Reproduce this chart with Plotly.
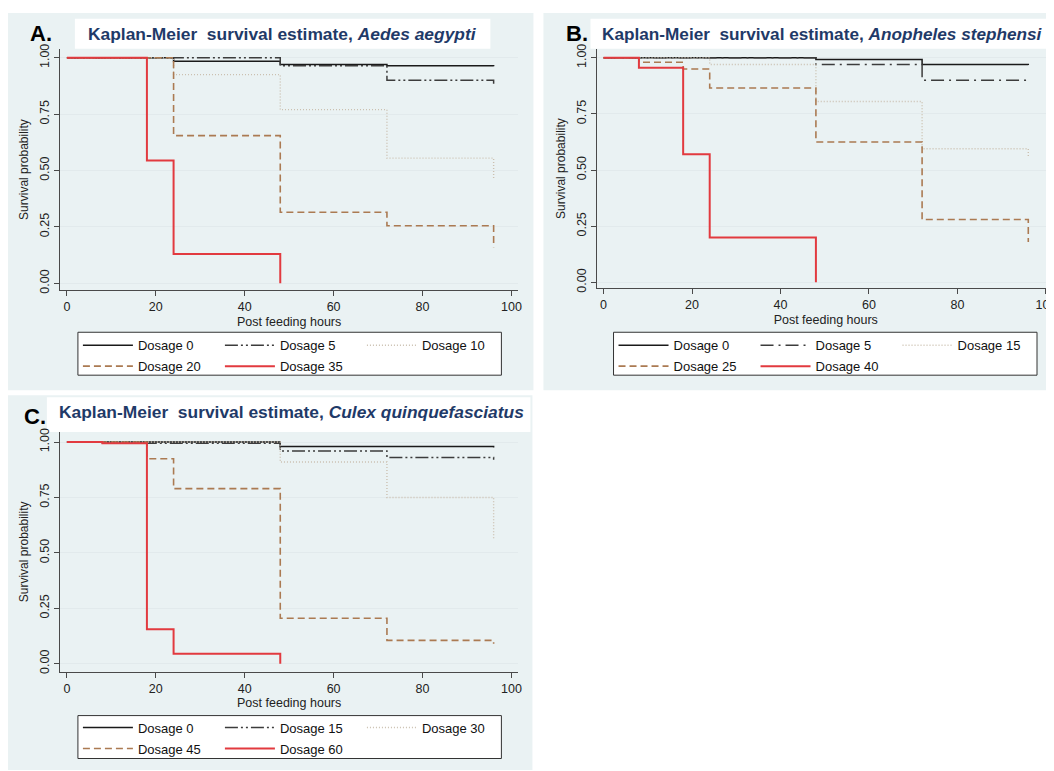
import plotly.graph_objects as go

# Positions below are given in window pixels of the target picture and mapped
# onto figure pixels (page offset + slight capture scaling, measured).
PAGE_W, PAGE_H = 1054, 771
SX, OFX = 0.996, 8.2
SY, OFY = 0.990, 12.3


def gx(px):
    return px / SX - OFX


def gy(py):
    return py / SY - OFY


W, H = round(gx(PAGE_W)), round(gy(PAGE_H))

# ---------------- data ----------------
X_TICKS = [0, 20, 40, 60, 80, 100]
Y_TICKS = [0.0, 0.25, 0.5, 0.75, 1.0]
Y_TICKTEXT = ["0.00", "0.25", "0.50", "0.75", "1.00"]

# Panel A: Aedes aegypti
A_LABELS = ["Dosage 0", "Dosage 5", "Dosage 10", "Dosage 20", "Dosage 35"]
A_T0 = [0, 24, 48, 72, 96]
A_S0 = [1.0, 0.985, 0.97, 0.965, 0.962]
A_T1 = [0, 48, 72, 96]
A_S1 = [1.0, 0.965, 0.90, 0.885]
A_T2 = [0, 24, 48, 72, 96]
A_S2 = [1.0, 0.925, 0.77, 0.555, 0.46]
A_T3 = [0, 24, 48, 72, 96]
A_S3 = [1.0, 0.655, 0.315, 0.255, 0.16]
A_T4 = [0, 18, 24, 48]
A_S4 = [1.0, 0.545, 0.13, 0.0]

# Panel B: Anopheles stephensi
B_LABELS = ["Dosage 0", "Dosage 5", "Dosage 15", "Dosage 25", "Dosage 40"]
B_T0 = [0, 48, 72, 96]
B_S0 = [1.0, 0.992, 0.97, 0.968]
B_T1 = [0, 48, 72, 96]
B_S1 = [1.0, 0.97, 0.90, 0.895]
B_T2 = [0, 24, 48, 72, 96]
B_S2 = [1.0, 0.97, 0.805, 0.595, 0.555]
B_T3 = [0, 8, 18, 24, 48, 72, 96]
B_S3 = [1.0, 0.98, 0.95, 0.865, 0.625, 0.28, 0.18]
B_T4 = [0, 8, 18, 24, 48]
B_S4 = [1.0, 0.955, 0.57, 0.20, 0.0]

# Panel C: Culex quinquefasciatus
C_LABELS = ["Dosage 0", "Dosage 15", "Dosage 30", "Dosage 45", "Dosage 60"]
C_T0 = [0, 48, 96]
C_S0 = [1.0, 0.98, 0.975]
C_T1 = [0, 8, 48, 72, 96]
C_S1 = [1.0, 0.995, 0.96, 0.93, 0.92]
C_T2 = [0, 48, 72, 96]
C_S2 = [1.0, 0.91, 0.75, 0.56]
C_T3 = [0, 18, 24, 48, 72, 96]
C_S3 = [1.0, 0.925, 0.79, 0.205, 0.105, 0.09]
C_T4 = [0, 8, 18, 24, 48]
C_S4 = [1.0, 0.995, 0.155, 0.045, 0.0]

# ---------------- styling ----------------
FONT = "Liberation Sans, Arial, sans-serif"
BG = "#EAF2F3"
TITLE_COL = "#1f3a68"
AXIS_COL = "#4a4a4a"
GRID_COL = "#e2eaec"

DDOT = "13px,3px,2px,3px,2px,3px"
LDOT = "13px,5px,2px,5px"
STYLES_A = [
    dict(color="#1a1a1a", width=1.5, dash="solid"),
    dict(color="#3c3c3c", width=1.5, dash=DDOT),
    dict(color="#cbc0b0", width=1.4, dash="1px,2px"),
    dict(color="#ab7a52", width=1.6, dash="7px,4px"),
    dict(color="#e23a3f", width=2.0, dash="solid"),
]
STYLES_B = [dict(s) for s in STYLES_A]
STYLES_B[1] = dict(color="#3c3c3c", width=1.5, dash=LDOT)
STYLES_C = STYLES_A


def fx(px):
    return min(1.0, max(0.0, gx(px) / W))


def fy(py):
    return min(1.0, max(0.0, 1 - gy(py) / H))


def xrange_px(left_px, right_px, zero_px, per_unit):
    return [(left_px - zero_px) / per_unit, (right_px - zero_px) / per_unit]


def yrange_px(top_px, bottom_px, one_px, zero_px):
    per = zero_px - one_px
    return [-(bottom_px - zero_px) / per, 1 + (one_px - top_px) / per]


fig = go.Figure()

panels = [
    ("x", "y", A_LABELS, [(A_T0, A_S0), (A_T1, A_S1), (A_T2, A_S2), (A_T3, A_S3), (A_T4, A_S4)], STYLES_A, ("legend", "legend2")),
    ("x2", "y2", B_LABELS, [(B_T0, B_S0), (B_T1, B_S1), (B_T2, B_S2), (B_T3, B_S3), (B_T4, B_S4)], STYLES_B, ("legend3", "legend4")),
    ("x3", "y3", C_LABELS, [(C_T0, C_S0), (C_T1, C_S1), (C_T2, C_S2), (C_T3, C_S3), (C_T4, C_S4)], STYLES_C, ("legend5", "legend6")),
]

for xa, ya, labels, series, styles, legs in panels:
    for i, (lab, (t, s), st) in enumerate(zip(labels, series, styles)):
        fig.add_trace(go.Scatter(
            x=t, y=s, mode="lines", name=lab,
            line=dict(shape="hv", **st),
            xaxis=xa, yaxis=ya,
            legend=legs[0] if i < 3 else legs[1],
            hoverinfo="skip",
        ))


# ---------------- axes ----------------
def xaxis(domain_px, rng, anchor):
    return dict(
        domain=[fx(domain_px[0]), fx(domain_px[1])], range=rng, anchor=anchor,
        showline=True, linecolor=AXIS_COL, linewidth=1,
        ticks="outside", ticklen=5, tickcolor=AXIS_COL, tickwidth=1,
        tickvals=X_TICKS, showgrid=False, zeroline=False,
        tickfont=dict(family=FONT, size=12.5, color="#222"),
        title=dict(text="Post feeding hours", font=dict(family=FONT, size=12.5, color="#222"), standoff=3),
    )


def yaxis(domain_px, rng, anchor):
    return dict(
        domain=[fy(domain_px[1]), fy(domain_px[0])], range=rng, anchor=anchor,
        showline=True, linecolor=AXIS_COL, linewidth=1,
        ticks="outside", ticklen=5, tickcolor=AXIS_COL, tickwidth=1,
        tickvals=Y_TICKS, ticktext=Y_TICKTEXT, tickangle=-90,
        showgrid=True, gridcolor=GRID_COL, gridwidth=1, zeroline=False,
        tickfont=dict(family=FONT, size=12.5, color="#222"),
        title=dict(text="Survival probability", font=dict(family=FONT, size=12, color="#222"), standoff=6),
    )


layout = dict(
    width=W, height=H, margin=dict(l=0, r=0, t=0, b=0),
    paper_bgcolor="white", plot_bgcolor="white",
    font=dict(family=FONT, color="#222"),
    xaxis=xaxis([60, 518], xrange_px(60, 518, 67, 4.44), "y"),
    yaxis=yaxis([48, 290], yrange_px(48, 290, 57, 283), "x"),
    xaxis2=xaxis([596, 1054], xrange_px(596, 1054, 603, 4.42), "y2"),
    yaxis2=yaxis([48, 288], yrange_px(48, 288, 57, 282), "x2"),
    xaxis3=xaxis([60, 518], xrange_px(60, 518, 67, 4.44), "y3"),
    yaxis3=yaxis([432, 672], yrange_px(432, 672, 442, 664), "x3"),
)


def leg(xpx, ypx):
    return dict(
        x=fx(xpx), y=fy(ypx), xanchor="left", yanchor="middle",
        orientation="h", bgcolor="rgba(0,0,0,0)", borderwidth=0,
        entrywidth=77, entrywidthmode="pixels", itemwidth=50,
        font=dict(family=FONT, size=13, color="#111"),
        traceorder="normal", tracegroupgap=0,
    )


layout["legend"] = leg(78, 345)
layout["legend2"] = leg(78, 366)
layout["legend3"] = leg(613, 345)
layout["legend4"] = leg(613, 366)
layout["legend5"] = leg(78, 728)
layout["legend6"] = leg(78, 749)

fig.update_layout(**layout)


# ---------------- decoration shapes ----------------
def rect(x0, y0, x1, y1, fill, line_col=None, lw=0):
    return dict(
        type="rect", xref="paper", yref="paper",
        x0=fx(x0), x1=fx(x1), y0=fy(y1), y1=fy(y0),
        fillcolor=fill, line=dict(color=line_col or fill, width=lw),
        layer="below",
    )


shapes = [
    rect(8, 11, 533, 390, BG),
    rect(543, 11, PAGE_W, 390, BG),
    rect(8, 395, 532, PAGE_H, BG),
    rect(75, 18, 490, 48, "white"),
    rect(590, 18, PAGE_W, 48, "white"),
    rect(47, 397, 530, 432, "white"),
    rect(78, 332, 501, 375, "white", "#333333", 1),
    rect(613, 332, 1036, 375, "white", "#333333", 1),
    rect(78, 716, 501, 759, "white", "#333333", 1),
]
fig.update_layout(shapes=shapes)


def ann(text, xpx, ypx, size, color, xanchor="center"):
    return dict(
        text=text, x=fx(xpx), y=fy(ypx), xref="paper", yref="paper",
        xanchor=xanchor, yanchor="middle", showarrow=False,
        font=dict(family=FONT, size=size, color=color),
    )


annotations = [
    ann("<b>A.</b>", 41, 33, 22, "#000"),
    ann("<b>B.</b>", 577, 33, 22, "#000"),
    ann("<b>C.</b>", 35, 416, 22, "#000"),
    ann("<b>Kaplan-Meier\u00a0 survival estimate, <i>Aedes aegypti</i></b>", 282, 33, 17.4, TITLE_COL),
    ann("<b>Kaplan-Meier\u00a0 survival estimate, <i>Anopheles stephensi</i></b>", 822, 33, 17.2, TITLE_COL),
    ann("<b>Kaplan-Meier\u00a0 survival estimate, <i>Culex quinquefasciatus</i></b>", 291, 412, 17.4, TITLE_COL),
]
fig.update_layout(annotations=annotations)

fig.write_html("out.html")
